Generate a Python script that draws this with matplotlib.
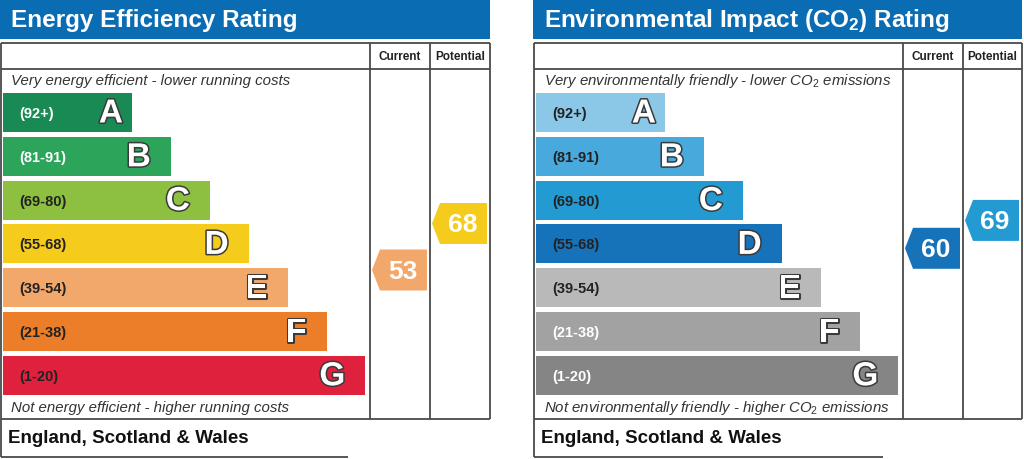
import numpy as np
import matplotlib
matplotlib.use("Agg")
import matplotlib.pyplot as plt
from matplotlib.patches import Rectangle, Polygon
import matplotlib.patheffects as pe

plt.rcParams['font.family'] = ['Liberation Sans', 'DejaVu Sans']
plt.rcParams['mathtext.fontset'] = 'custom'
plt.rcParams['mathtext.rm'] = 'Liberation Sans'
plt.rcParams['mathtext.it'] = 'Liberation Sans:italic'
plt.rcParams['mathtext.bf'] = 'Liberation Sans:bold'

# data
bands = ['A', 'B', 'C', 'D', 'E', 'F', 'G']
ranges = ['(92+)', '(81-91)', '(69-80)', '(55-68)', '(39-54)', '(21-38)', '(1-20)']

ee_colors = ['#198a53', '#2ca55a', '#8dbf41', '#f5cc1b', '#f2a76b', '#ec7e29', '#e0213e']
ee_label_colors = ['white', 'white', '#222222', '#222222', '#222222', '#222222', '#222222']
ee_current = 53
ee_potential = 68

ei_colors = ['#8bc7e6', '#48a9dc', '#249ad3', '#1673b9', '#b9b9b9', '#a2a2a2', '#858585']
ei_label_colors = ['#222222', '#222222', '#222222', '#222222', '#222222', 'white', 'white']
ei_current = 60
ei_potential = 69

titles = ['Energy Efficiency Rating', r'Environmental Impact (CO$_\mathbf{2}$) Rating']
top_notes = ['Very energy efficient - lower running costs',
             r'Very environmentally friendly - lower CO$_2$ emissions']
bottom_notes = ['Not energy efficient - higher running costs',
                r'Not environmentally friendly - higher CO$_2$ emissions']
region = 'England, Scotland & Wales'

LINE = '#4a4a4a'
BLUE = '#0a6cb3'


def band_color(value, colors):
    lows = [92, 81, 69, 55, 39, 21, 1]
    for lo, c in zip(lows, colors):
        if value >= lo:
            return c
    return colors[-1]


def value_y(v):
    # vertical position of the rating pointer
    return 435.3 - 3.1 * v


def draw_panel(ax, x0, x1, col1, col2, title, colors, label_colors,
               current, potential, top_note, bottom_note, box_end):
    # header band
    ax.add_patch(Rectangle((x0 - 1, 0), x1 - x0 + 1, 40, color=BLUE, lw=0))
    ax.text(x0 + 10, 21, title, color='white', fontsize=17.5, fontweight='bold',
            va='center', ha='left')
    # table frame
    kw = dict(color=LINE, lw=1.3, solid_capstyle='butt')
    ax.plot([x0, x1], [44, 44], **kw)
    ax.plot([x0, x1], [70, 70], **kw)
    ax.plot([x0, x1], [420, 420], **kw)
    ax.plot([x0, x0], [44, 458], **kw)
    ax.plot([x1, x1], [44, 420], **kw)
    ax.plot([col1, col1], [44, 420], **kw)
    ax.plot([col2, col2], [44, 420], **kw)
    ax.plot([x0, box_end], [458, 458], **kw)
    ax.text((col1 + col2) / 2, 57, 'Current', fontsize=8.5, fontweight='bold',
            ha='center', va='center', color='#222222')
    ax.text((col2 + x1) / 2, 57, 'Potential', fontsize=8.5, fontweight='bold',
            ha='center', va='center', color='#222222')
    ax.text(x0 + 10, 81, top_note, fontsize=10.8, style='italic',
            ha='left', va='center', color='#333333')
    ax.text(x0 + 10, 408, bottom_note, fontsize=10.8, style='italic',
            ha='left', va='center', color='#333333')
    ax.text(x0 + 7, 439, region, fontsize=13.5, fontweight='bold',
            ha='left', va='center', color='#111111')

    # bands
    for i, (b, r) in enumerate(zip(bands, ranges)):
        top = 94 + i * 43.8
        left = x0 + 1.5
        right = x0 + 131 + 38.9 * i
        ax.add_patch(Rectangle((left, top), right - left, 39, color=colors[i], lw=0))
        ax.text(left + 17, top + 20, r, fontsize=10.5, fontweight='bold',
                color=label_colors[i], ha='left', va='center')
        pad = 9 if i == 0 else 20
        ax.text(right - pad, top + 21, b, fontsize=24, fontweight='bold',
                color='white', ha='right', va='center',
                path_effects=[pe.withStroke(linewidth=2.2, foreground='#3a3a3a')])

    # pointers
    for val, ca, cb in [(current, col1, col2), (potential, col2, x1)]:
        yc = value_y(val)
        a, e = ca + 2, cb - 3
        pts = [(a, yc), (a + 8, yc - 20.5), (e, yc - 20.5), (e, yc + 20.5), (a + 8, yc + 20.5)]
        ax.add_patch(Polygon(pts, closed=True, color=band_color(val, colors), lw=0))
        ax.text((a + 6 + e) / 2, yc + 1, str(val), fontsize=19, fontweight='bold',
                color='white', ha='center', va='center')


fig = plt.figure(figsize=(10.24, 4.6), dpi=100)
ax = fig.add_axes([0, 0, 1, 1])
ax.set_xlim(0, 1024)
ax.set_ylim(460, 0)
ax.axis('off')

draw_panel(ax, 1, 490, 370, 430, titles[0], ee_colors, ee_label_colors,
           ee_current, ee_potential, top_notes[0], bottom_notes[0], 348)
draw_panel(ax, 534, 1022, 903, 963, titles[1], ei_colors, ei_label_colors,
           ei_current, ei_potential, top_notes[1], bottom_notes[1], 883)

fig.savefig('out.png', dpi=100, facecolor='white')
